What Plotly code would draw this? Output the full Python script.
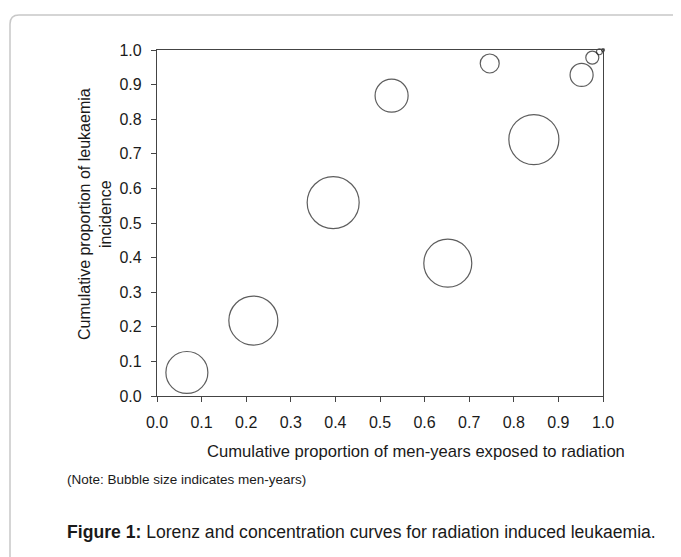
import plotly.graph_objects as go

# Data
cum_men_years = [0.067, 0.216, 0.395, 0.652, 0.526, 0.746, 0.845, 0.952, 0.976, 0.992, 1.0]
cum_leukaemia = [0.068, 0.218, 0.559, 0.384, 0.868, 0.961, 0.741, 0.928, 0.978, 0.995, 1.0]
men_years = [1760, 2400, 2700, 2300, 1090, 360, 2500, 530, 170, 36, 9]  # relative bubble sizes

x_ticks = [0.0, 0.1, 0.2, 0.3, 0.4, 0.5, 0.6, 0.7, 0.8, 0.9, 1.0]
y_ticks = [0.0, 0.1, 0.2, 0.3, 0.4, 0.5, 0.6, 0.7, 0.8, 0.9, 1.0]

OFF = 8  # default page body margin
W, H = 681 - OFF, 557 - OFF
# plot area in page pixels: x 157..603, y 50..396
L, T = 157 - OFF, 50 - OFF
R = W - (603 - OFF)
B = H - (396 - OFF)
PW, PH = W - L - R, H - T - B


def px(xp):
    return (xp - OFF - L) / PW


def py(yp):
    return (H - B - (yp - OFF)) / PH


FONT = "Liberation Sans, Arial, sans-serif"
max_d = 52
sizeref = 2.0 * max(men_years) / (max_d ** 2)

fig = go.Figure()
fig.add_trace(go.Scatter(
    x=cum_men_years, y=cum_leukaemia, mode="markers",
    marker=dict(size=men_years, sizemode="area", sizeref=sizeref,
                color="rgba(255,255,255,0)",
                line=dict(color="#1a1a1a", width=1.2)),
    cliponaxis=False, showlegend=False, hoverinfo="x+y",
))

axis_common = dict(
    range=[0, 1], showgrid=False, zeroline=False, showline=True,
    linecolor="#444", linewidth=1.3, mirror=True,
    ticks="outside", ticklen=5, tickcolor="#444", tickwidth=1,
    tickfont=dict(family=FONT, size=16, color="#1a1a1a"),
)
fig.update_xaxes(tickvals=x_ticks, ticktext=["%.1f" % t for t in x_ticks],
                 ticklabelstandoff=7, **axis_common)
fig.update_yaxes(tickvals=y_ticks, ticktext=["%.1f" % t for t in y_ticks],
                 ticklabelstandoff=6, **axis_common)

# rounded grey frame
x0, y0, x1, y1, r = px(10), py(15), px(740), py(620), 9
rx, ry = r / PW, r / PH
path = (f"M {x0},{y1} L {x0},{y0 - ry} Q {x0},{y0} {x0 + rx},{y0} "
        f"L {x1},{y0}")
fig.add_shape(type="path", path=path, xref="paper", yref="paper",
              line=dict(color="#c8c8c8", width=1.5), layer="below")

ann = [
    dict(text="Cumulative proportion of leukaemia<br>incidence",
         x=px(95), y=py(214), textangle=-90, font=dict(size=16)),
    dict(text="Cumulative proportion of men-years exposed to radiation",
         x=px(416), y=py(451), font=dict(size=16.6)),
    dict(text="(Note: Bubble size indicates men-years)",
         x=px(65), y=py(479), xanchor="left", font=dict(size=13.5)),
    dict(text="<b>Figure 1:</b> Lorenz and concentration curves for radiation induced leukaemia.",
         x=px(65), y=py(532), xanchor="left", font=dict(size=17.6)),
]
for a in ann:
    a.setdefault("xanchor", "center")
    a["yanchor"] = "middle"
    a["xref"] = "paper"
    a["yref"] = "paper"
    a["showarrow"] = False
    a["font"] = dict(family=FONT, color="#1a1a1a", **a["font"])
    fig.add_annotation(**a)

fig.update_layout(
    width=W, height=H, margin=dict(l=L, r=R, t=T, b=B, autoexpand=False),
    paper_bgcolor="white", plot_bgcolor="white",
)

fig.write_html("out.html")
